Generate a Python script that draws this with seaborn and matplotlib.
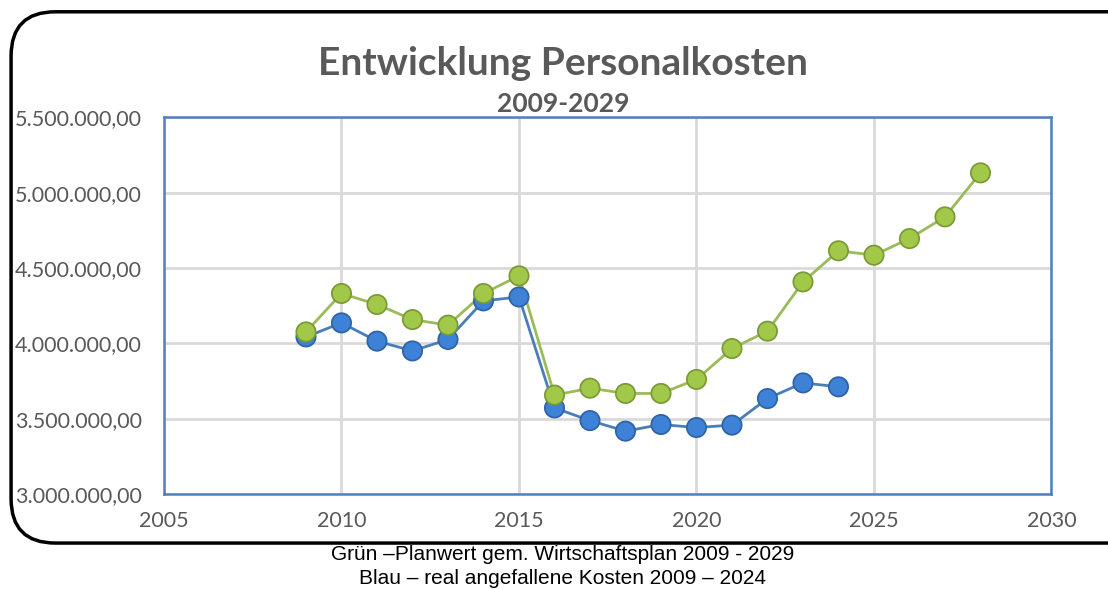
import matplotlib
matplotlib.use("Agg")
import matplotlib.pyplot as plt
import seaborn as sns
import pandas as pd
from matplotlib.patches import FancyBboxPatch
from matplotlib.ticker import FuncFormatter

years_plan = [2009, 2010, 2011, 2012, 2013, 2014, 2015, 2016, 2017, 2018, 2019,
              2020, 2021, 2022, 2023, 2024, 2025, 2026, 2027, 2028]
plan_values = [4076000, 4331000, 4258000, 4158000, 4121000, 4331000, 4448000,
               3657000, 3703000, 3668000, 3668000, 3761000, 3966000, 4081000,
               4408000, 4614000, 4585000, 4695000, 4839000, 5131000]

years_real = [2009, 2010, 2011, 2012, 2013, 2014, 2015, 2016, 2017, 2018, 2019,
              2020, 2021, 2022, 2023, 2024]
real_values = [4043000, 4136000, 4015000, 3950000, 4026000, 4282000, 4308000,
               3572000, 3488000, 3418000, 3462000, 3442000, 3458000, 3634000,
               3738000, 3712000]

x_ticks = [2005, 2010, 2015, 2020, 2025, 2030]
y_ticks = [3000000, 3500000, 4000000, 4500000, 5000000, 5500000]

title = "Entwicklung Personalkosten"
subtitle = "2009-2029"
footer1 = "Grün –Planwert gem. Wirtschaftsplan 2009 - 2029"
footer2 = "Blau – real angefallene Kosten 2009 – 2024"

sns.set_theme(style="white")
plt.rcParams['font.family'] = ['Lato', 'DejaVu Sans']

df_plan = pd.DataFrame({"Jahr": years_plan, "Kosten": plan_values})
df_real = pd.DataFrame({"Jahr": years_real, "Kosten": real_values})

fig = plt.figure(figsize=(11.08, 5.89), dpi=100)
fig.patch.set_facecolor("white")

# rounded border
border = FancyBboxPatch((0.010, 0.078), 1.05, 0.902,
                        boxstyle="round,pad=0,rounding_size=0.04",
                        transform=fig.transFigure, facecolor="none",
                        edgecolor="black", linewidth=2.5, zorder=0,
                        mutation_aspect=1108/589)
fig.patches.append(border)

ax = fig.add_axes([0.148, 0.161, 0.801, 0.640])

blue_line = "#4a7ebb"
green_line = "#9bbb59"
blue_dark = "#2f63a6"
blue_mid = "#3d82d6"
green_dark = "#7a9a36"
green_mid = "#a2c84a"

sns.lineplot(data=df_real, x="Jahr", y="Kosten", ax=ax, color=blue_line,
             linewidth=2, zorder=2)
sns.lineplot(data=df_plan, x="Jahr", y="Kosten", ax=ax, color=green_line,
             linewidth=2, zorder=3)

sns.scatterplot(data=df_real, x="Jahr", y="Kosten", ax=ax, s=230,
                color=blue_dark, edgecolor="none", zorder=4)
sns.scatterplot(data=df_real, x="Jahr", y="Kosten", ax=ax, s=160,
                color=blue_mid, edgecolor="none", zorder=5)
sns.scatterplot(data=df_plan, x="Jahr", y="Kosten", ax=ax, s=230,
                color=green_dark, edgecolor="none", zorder=6)
sns.scatterplot(data=df_plan, x="Jahr", y="Kosten", ax=ax, s=160,
                color=green_mid, edgecolor="none", zorder=7)

ax.set_xlim(2005, 2030)
ax.set_ylim(3000000, 5500000)
ax.set_xticks(x_ticks)
ax.set_yticks(y_ticks)

def de_fmt(v, pos):
    s = f"{v:,.2f}"
    return s.replace(",", "X").replace(".", ",").replace("X", ".")

ax.yaxis.set_major_formatter(FuncFormatter(de_fmt))
ax.set_xlabel("")
ax.set_ylabel("")
ax.grid(True, color="#d9d9d9", linewidth=2)
ax.set_axisbelow(True)
for sp in ax.spines.values():
    sp.set_color("#4f81bd")
    sp.set_linewidth(1.8)
ax.tick_params(axis="both", length=0, labelsize=15.5, labelcolor="#595959")
ax.tick_params(axis="y", pad=16)
ax.tick_params(axis="x", pad=12)

fig.text(0.508, 0.893, title, ha="center", va="center", fontsize=28,
         fontweight="bold", color="#595959")
fig.text(0.508, 0.824, subtitle, ha="center", va="center", fontsize=19,
         fontweight="bold", color="#595959")
fig.text(0.508, 0.059, footer1, ha="center", va="center", fontsize=15,
         color="black", family=["Liberation Sans", "DejaVu Sans"])
fig.text(0.508, 0.018, footer2, ha="center", va="center", fontsize=15,
         color="black", family=["Liberation Sans", "DejaVu Sans"])

fig.savefig("out.png", dpi=100)
